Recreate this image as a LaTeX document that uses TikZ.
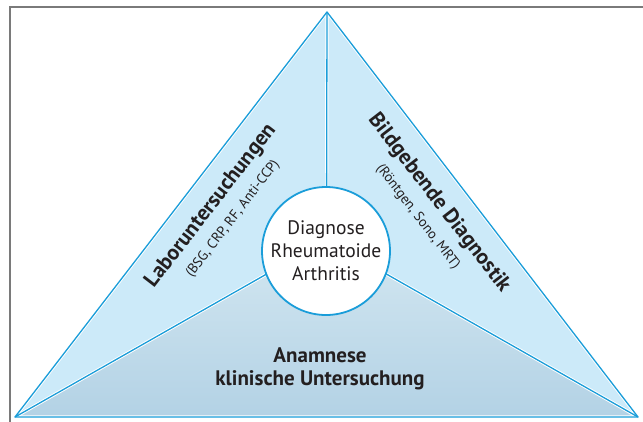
\documentclass[tikz,border=0pt]{standalone}
\usepackage{fontspec}
\setmainfont{PT Sans}
\definecolor{edge}{HTML}{1A9DD9}
\definecolor{upper}{HTML}{CCEAF9}
\definecolor{lowtop}{HTML}{D3E7F1}
\definecolor{lowbot}{HTML}{B3D2E5}
\definecolor{frame}{HTML}{7A7A7A}
\definecolor{txt}{HTML}{231F20}
\tikzset{
  whiteedge/.style={white, line width=3.2pt, line join=round},
  blueedge/.style={edge, line width=1.3pt, line join=round},
  bigbold/.style={text=txt, font=\bfseries\fontsize{21.5}{24}\selectfont, inner sep=0pt},
  subtxt/.style={text=txt, font=\fontsize{14}{16}\selectfont, inner sep=0pt},
}
\begin{document}
\begin{tikzpicture}[x=1pt,y=-1pt]
\useasboundingbox (0,0) rectangle (643,421);
\coordinate (A) at (327,12);
\coordinate (B) at (15,417);
\coordinate (C) at (638,417);
\coordinate (P) at (326.5,240);
% frame
\draw[frame, line width=1.3pt] (10,440) -- (10,7) -- (660,7);
% fills
\fill[upper] (A) -- (B) -- (C) -- cycle;
\shade[top color=lowtop, bottom color=lowbot] (B) -- (P) -- (C) -- cycle;
% white under-edges
\draw[whiteedge] (A) -- (P);
\draw[whiteedge] (B) -- (P) -- (C);
\draw[whiteedge] (A) -- (B) -- (C) -- cycle;
% blue edges
\draw[blueedge] (A) -- (P);
\draw[blueedge] (B) -- (P) -- (C);
\draw[blueedge] (A) -- (B) -- (C) -- cycle;
% centre circle
\node[circle, draw=edge, line width=1.8pt, fill=white, minimum size=128pt, inner sep=0pt,
      align=center, text=txt, font=\fontsize{19.5}{23}\selectfont] (centre) at (326,251)
      {Diagnose\\Rheumatoide\\Arthritis};
% texts
\node[bigbold, rotate=52.4] (lab) at (211,206) {Laboruntersuchungen};
\node[subtxt, rotate=52.4] (labsub) at (233,219) {(BSG, CRP, RF, Anti-CCP)};
\node[bigbold, rotate=-52.4] (bild) at (439,203) {Bildgebende Diagnostik};
\node[subtxt, rotate=-52.4] (bildsub) at (418,217) {(Röntgen, Sono, MRT)};
\node[bigbold, align=center, font=\bfseries\fontsize{21}{23}\selectfont] (anam) at (320,369)
      {Anamnese\\klinische Untersuchung};
\end{tikzpicture}
\end{document}
